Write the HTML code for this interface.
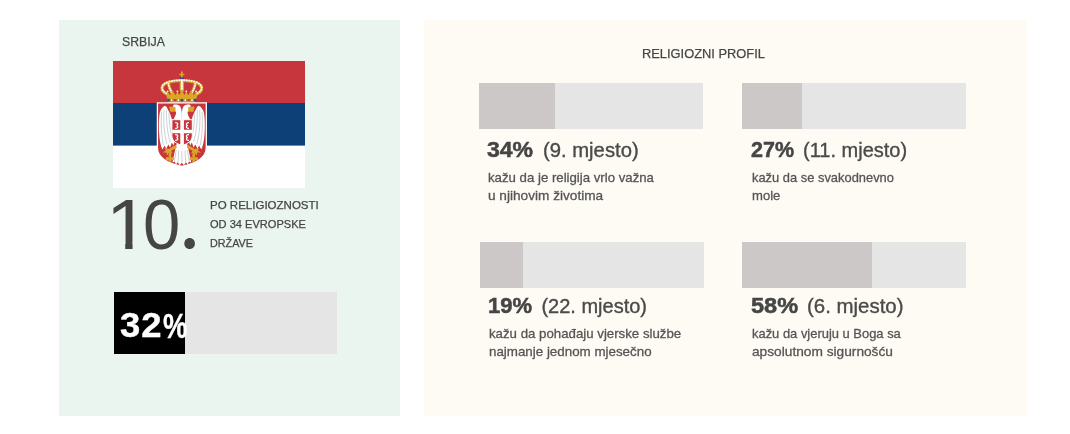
<!DOCTYPE html>
<html lang="sr">
<head>
<meta charset="utf-8">
<title>Srbija – religiozni profil</title>
<style>
html,body{margin:0;padding:0;background:#fff;}
body{width:1070px;height:434px;position:relative;overflow:hidden;font-family:"Liberation Sans",sans-serif;color:#454545;}
.abs{position:absolute;}
.t{position:absolute;white-space:nowrap;transform-origin:0 0;line-height:1;}
.g{position:absolute;left:0;top:0;white-space:nowrap;font-size:0;line-height:0;}
.s{display:inline-block;position:relative;vertical-align:top;white-space:nowrap;transform-origin:0 0;line-height:1;}
#left{left:59px;top:20px;width:341px;height:396px;background:#eaf5f0;}
#right{left:424px;top:20px;width:603px;height:396px;background:#fdfbf4;}
#flag{left:113px;top:61px;width:192px;height:127px;}
#mainbar{left:114px;top:292px;width:223px;height:62px;background:#e5e5e5;}
#mainfill{left:114px;top:292px;width:71px;height:62px;background:#000;}
.bar{width:224px;height:46px;background:#e5e5e5;}
.fill{left:0;top:0;height:46px;background:#cbc8c7;}
</style>
</head>
<body>
<div id="left" class="abs"></div>
<div id="right" class="abs"></div>
<svg id="flag" class="abs" viewBox="0 0 192 127" preserveAspectRatio="none">
<rect x="0" y="0" width="192" height="127" fill="#fff"/>
<rect x="0" y="0" width="192" height="42" fill="#c6363c"/>
<rect x="0" y="42" width="192" height="42.600" fill="#0c4076"/>
<!-- crown -->
<g id="crown">
<path d="M68.85 10.600v7M66.300 13.500h5.100" stroke="#dba627" stroke-width="1.700" fill="none"/>
<rect x="66.750" y="16.400" width="4.200" height="2" fill="#2a4b8d"/>
<g fill="none" stroke="#d6a332" stroke-linecap="round">
<path d="M68.85 20v9" stroke-width="4.400"/>
<path d="M53.600 32.800C47 29.500 47.500 23.600 55.500 21.200 60.500 19.800 65 19.500 68.850 19.500 72.700 19.500 77.200 19.800 82.200 21.200 90.200 23.600 90.700 29.500 84.100 32.800" stroke-width="3.200"/>
<path d="M59 32C57 28.500 55.800 25.500 55.400 22.600M78.700 32C80.700 28.500 81.900 25.500 82.300 22.600" stroke-width="3.200"/>
</g>
<g fill="none" stroke="#fdfaf2" stroke-linecap="round" stroke-dasharray=".4 2.100">
<path d="M68.85 20v9" stroke-width="2.300"/>
<path d="M53.600 32.800C47 29.500 47.500 23.600 55.500 21.200 60.500 19.800 65 19.500 68.850 19.500 72.700 19.500 77.200 19.800 82.200 21.200 90.200 23.600 90.700 29.500 84.100 32.800" stroke-width="1.800" transform="translate(0 -.4)"/>
<path d="M59 32C57 28.500 55.800 25.500 55.400 22.600M78.700 32C80.700 28.500 81.900 25.500 82.300 22.600" stroke-width="1.800"/>
</g>
<path d="M53.400 35 54.600 30.400 57 34.200 59.800 29.400 62.400 34.200 64.400 30.600 66.400 34 68.850 28.600 71.300 34 73.300 30.600 75.300 34.200 77.900 29.400 80.700 34.200 83.100 30.400 84.300 35 83.200 37.600H54.500z" fill="#dba627"/>
<circle cx="54.600" cy="30.300" r=".9" fill="#fdfaf2"/><circle cx="64.400" cy="30.300" r=".9" fill="#fdfaf2"/><circle cx="73.300" cy="30.300" r=".9" fill="#fdfaf2"/><circle cx="83.100" cy="30.300" r=".9" fill="#fdfaf2"/>
<path d="M54.200 37h29.300l-.7 4.400H54.900z" fill="#dba627"/>
<path d="M54.600 39.200h28.500" stroke="#b07d1c" stroke-width="2"/>
<rect x="54.300" y="37.800" width="2.200" height="2.800" fill="#2a4b8d"/><rect x="81.200" y="37.800" width="2.200" height="2.800" fill="#2a4b8d"/>
<circle cx="62" cy="39.200" r="1.100" fill="#c6363c"/><rect x="67.700" y="37.900" width="2.300" height="2.600" fill="#2a4b8d"/><circle cx="75.700" cy="39.200" r="1.100" fill="#c6363c"/>
<circle cx="58.700" cy="39.200" r=".9" fill="#fff"/><circle cx="65.400" cy="39.200" r=".9" fill="#fff"/><circle cx="72.300" cy="39.200" r=".9" fill="#fff"/><circle cx="79" cy="39.200" r=".9" fill="#fff"/>
</g>
<!-- shield -->
<path d="M44.400 41.900H93.300V86.500C93.300 97.500 82.500 102.500 68.850 105.300 55.200 102.500 44.400 97.500 44.400 86.500z" fill="#c6363c" stroke="#fff" stroke-width="1.300"/>
<!-- eagle -->
<g id="eagle" fill="#fff">
<path d="M52 44.7C49.5 45.8 47.6 48.5 46.7 52C45.7 58 45.7 66 46.1 72C46.5 79 47.6 85 49.4 88.6L51.6 84.4L53.2 88L55.3 83.4L57.2 86.6L58.8 81.6L60.6 84.4L62 79L59 75L59 58.8C58.3 55.5 56.5 51 53.6 46Z"/>
<path d="M85.7 44.7C88.2 45.8 90.1 48.5 91 52C92 58 92 66 91.6 72C91.2 79 90.1 85 88.3 88.6L86.1 84.4L84.5 88L82.4 83.4L80.5 86.6L78.9 81.6L77.1 84.4L75.7 79L78.7 75L78.7 58.8C79.4 55.5 81.2 51 84.1 46Z"/>
<path d="M48.600 51C47.800 62 48.400 74 50.400 84M51 48.500C50.200 60 51 73 53.800 83M53.500 48.500C53 59 54.300 71 57 81M56 51.500C56 60 57 69 59 76M89.100 51C89.900 62 89.300 74 87.300 84M86.700 48.500C87.500 60 86.700 73 83.900 83M84.200 48.500C84.700 59 83.400 71 80.700 81M81.700 51.500C81.700 60 80.700 69 78.700 76" stroke="#b9bdc2" stroke-width=".7" fill="none"/>
<path d="M68.85 59L60.4 58.6C62 55.5 63.6 52.8 63 50.6L62 50.6C60.8 49.6 60.3 48.4 60.6 47.2C59.8 45.8 59.9 44.6 60.6 43.7C62.6 43.2 65 43.6 66.6 44.8C68 46 68.6 49 68.85 52.8Z"/>
<path d="M68.85 59L77.3 58.6C75.7 55.5 74.1 52.8 74.7 50.6L75.7 50.6C76.9 49.6 77.4 48.4 77.1 47.2C77.9 45.8 77.8 44.6 77.1 43.7C75.1 43.2 72.7 43.6 71.1 44.8C69.7 46 69.1 49 68.85 52.8Z"/>
<path d="M63.600 83h10.500L75.400 88 78.300 101.600 76 100.400 74.800 103.200 72.800 101.200 71 104.200 68.850 101.700 66.700 104.200 64.900 101.200 62.900 103.200 61.700 100.400 59.400 101.600 62.300 88z"/>
<path d="M63.200 89 61.500 100M65.700 89.500 65 101M68.850 90V101.500M72 89.500 72.700 101M74.500 89 76.200 100" stroke="#b9bdc2" stroke-width=".7" fill="none"/>
</g>
<!-- beaks -->
<path d="M62.4 46L57 45.5C55.9 46.2 55.9 47.4 57.2 48.2C56.3 49 56.6 50.2 58.4 51L62.6 50.3Z" fill="#dba627"/>
<path d="M75.3 46L80.7 45.5C81.8 46.2 81.8 47.4 80.5 48.2C81.4 49 81.1 50.2 79.3 51L75.1 50.3Z" fill="#dba627"/>
<!-- legs -->
<path d="M62.5 84L56 88L51.3 87.2L53 89.4L49.6 91.6L53.6 91.4L53.8 94.8L56.2 91.4L59.6 92.6L58.2 89.8L64 86.6Z" fill="#dba627"/>
<path d="M75.2 84L81.7 88L86.4 87.2L84.7 89.4L88.1 91.6L84.1 91.4L83.9 94.8L81.5 91.4L78.1 92.6L79.5 89.8L73.7 86.6Z" fill="#dba627"/>
<!-- fleur de lis -->
<g transform="translate(57 95.600) scale(1.300) translate(-57 -97.500)"><path d="M57 93.500C58.300 95 58.300 97 57.600 98.300 59 97.300 60.500 98 60.300 99.500 59.800 100.500 58.500 100.500 57.900 99.800L58.300 101.500H55.700L56.100 99.800C55.500 100.500 54.200 100.500 53.700 99.500 53.500 98 55 97.300 56.400 98.300 55.700 97 55.700 95 57 93.500z" fill="#dba627"/></g>
<g transform="translate(80.700 95.600) scale(1.300) translate(-80.700 -97.500)"><path d="M80.700 93.500C82 95 82 97 81.300 98.300 82.700 97.300 84.200 98 84 99.500 83.500 100.500 82.200 100.500 81.600 99.800L82 101.500H79.400L79.800 99.800C79.200 100.500 77.900 100.500 77.400 99.500 77.200 98 78.700 97.300 80.100 98.300 79.400 97 79.400 95 80.700 93.500z" fill="#dba627"/></g>
<!-- small shield -->
<path d="M58.900 58.700H79.300V74.500C79.300 80 75 82.800 69.100 84.300 63.200 82.800 58.900 80 58.900 74.500z" fill="#c6363c" stroke="#fff" stroke-width="1"/>
<path d="M69.100 59v25M59.200 70.500h19.800" stroke="#fff" stroke-width="3.600" fill="none"/>
<g stroke="#fff" stroke-width="1.200" fill="none">
<path d="M62.200 61.600C65.500 61.300 65.500 64.200 63.300 64.500 65.500 64.800 65.500 67.700 62.200 67.400"/>
<path d="M76 61.600C72.700 61.300 72.700 64.200 74.900 64.500 72.700 64.800 72.700 67.700 76 67.400"/>
<path d="M62.200 73.600C65.500 73.300 65.500 76.200 63.300 76.500 65.500 76.800 65.500 79.700 62.200 79.400"/>
<path d="M76 73.600C72.700 73.300 72.700 76.200 74.900 76.500 72.700 76.800 72.700 79.700 76 79.400"/>
</g>
</svg>
<div id="mainbar" class="abs"></div><div id="mainfill" class="abs"></div>
<div class="abs bar" style="left:479px;top:83px"><div class="abs fill" style="width:76px"></div></div>
<div class="abs bar" style="left:742px;top:83px"><div class="abs fill" style="width:60px"></div></div>
<div class="abs bar" style="left:480px;top:242px"><div class="abs fill" style="width:43px"></div></div>
<div class="abs bar" style="left:742px;top:242px"><div class="abs fill" style="width:130px"></div></div>
<div class="t" style="left:122.40px;top:35.00px;font-size:13.7px;color:#454545;-webkit-text-stroke:0.25px #454545;transform:scaleX(0.8960);">SRBIJA</div>
<div class="t" style="left:642.00px;top:47.00px;font-size:13.7px;color:#454545;-webkit-text-stroke:0.25px #454545;transform:scaleX(0.9396);">RELIGIOZNI PROFIL</div>
<div id="rank" class="g"><span class="s" style="left:106.40px;top:189.80px;font-size:70px;color:#454545;clip-path:polygon(0 0,100% 0,100% 52.7px,23.9px 52.7px,23.9px 100%,17.3px 100%,17.3px 52.7px,0 52.7px);transform:scaleX(1.1111);">1</span><span class="s" style="left:103.70px;top:188.70px;font-size:71px;color:#454545;transform:scaleX(0.9429);">0</span><span class="s" style="left:100.00px;top:173.20px;font-size:80px;color:#454545;font-family:'Noto Sans CJK SC','Liberation Sans',sans-serif;">.</span></div>
<div class="t" style="left:210.40px;top:200.20px;font-size:11.5px;color:#454545;-webkit-text-stroke:0.25px #454545;transform:scaleX(1.0015);">PO RELIGIOZNOSTI</div>
<div class="t" style="left:210.40px;top:219.20px;font-size:11.5px;color:#454545;-webkit-text-stroke:0.25px #454545;transform:scaleX(0.9625);">OD 34 EVROPSKE</div>
<div class="t" style="left:210.40px;top:237.80px;font-size:11.5px;color:#454545;-webkit-text-stroke:0.25px #454545;transform:scaleX(0.9377);">DRŽAVE</div>
<div id="mainpct" class="g"><span class="s" style="left:119.50px;top:307.90px;font-size:35.5px;color:#fff;font-weight:bold;-webkit-text-stroke:0.4px #fff;letter-spacing:0.9px;transform:scaleX(1.0263);">32</span><span class="s" style="left:122.20px;top:308.90px;font-size:35.5px;color:#fff;font-weight:bold;-webkit-text-stroke:0.4px #fff;transform:scaleX(0.7742);">%</span></div>
<div class="t" style="left:487.00px;top:139.20px;font-size:22px;color:#454545;font-weight:bold;-webkit-text-stroke:0.5px #454545;transform:scaleX(1.0459);">34%</div>
<div class="t" style="left:542.60px;top:140.10px;font-size:20px;color:#4a4a4a;-webkit-text-stroke:0.35px #4a4a4a;transform:scaleX(1.0124);">(9. mjesto)</div>
<div class="t" style="left:487.70px;top:171.20px;font-size:13.5px;color:#555;-webkit-text-stroke:0.3px #555;transform:scaleX(0.9786);">kažu da je religija vrlo važna</div>
<div class="t" style="left:487.70px;top:189.20px;font-size:13.5px;color:#555;-webkit-text-stroke:0.3px #555;transform:scaleX(1.0096);">u njihovim životima</div>
<div class="t" style="left:751.30px;top:139.20px;font-size:22px;color:#454545;font-weight:bold;-webkit-text-stroke:0.5px #454545;transform:scaleX(0.9773);">27%</div>
<div class="t" style="left:803.40px;top:140.10px;font-size:20px;color:#4a4a4a;-webkit-text-stroke:0.35px #4a4a4a;transform:scaleX(1.0002);">(11. mjesto)</div>
<div class="t" style="left:751.70px;top:171.20px;font-size:13.5px;color:#555;-webkit-text-stroke:0.3px #555;transform:scaleX(0.9552);">kažu da se svakodnevno</div>
<div class="t" style="left:751.70px;top:189.20px;font-size:13.5px;color:#555;-webkit-text-stroke:0.3px #555;transform:scaleX(0.9691);">mole</div>
<div class="t" style="left:487.60px;top:295.40px;font-size:22px;color:#454545;font-weight:bold;-webkit-text-stroke:0.5px #454545;transform:scaleX(1.0005);">19%</div>
<div class="t" style="left:541.40px;top:296.20px;font-size:20px;color:#4a4a4a;-webkit-text-stroke:0.35px #4a4a4a;">(22. mjesto)</div>
<div class="t" style="left:488.60px;top:327.40px;font-size:13.5px;color:#555;-webkit-text-stroke:0.3px #555;transform:scaleX(0.9813);">kažu da pohađaju vjerske službe</div>
<div class="t" style="left:488.60px;top:345.40px;font-size:13.5px;color:#555;-webkit-text-stroke:0.3px #555;transform:scaleX(0.9892);">najmanje jednom mjesečno</div>
<div class="t" style="left:751.30px;top:295.40px;font-size:22px;color:#454545;font-weight:bold;-webkit-text-stroke:0.5px #454545;transform:scaleX(1.0703);">58%</div>
<div class="t" style="left:806.50px;top:296.20px;font-size:20px;color:#4a4a4a;-webkit-text-stroke:0.35px #4a4a4a;transform:scaleX(1.0215);">(6. mjesto)</div>
<div class="t" style="left:751.50px;top:327.40px;font-size:13.5px;color:#555;-webkit-text-stroke:0.3px #555;transform:scaleX(0.9579);">kažu da vjeruju u Boga sa</div>
<div class="t" style="left:751.50px;top:345.40px;font-size:13.5px;color:#555;-webkit-text-stroke:0.3px #555;transform:scaleX(1.0153);">apsolutnom sigurnošću</div>
</body>
</html>
